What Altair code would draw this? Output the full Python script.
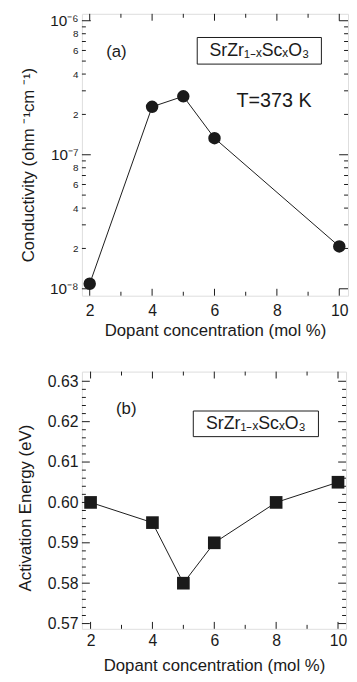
import altair as alt
import pandas as pd

# ---------------- data ----------------
# panel (a): conductivity at T = 373 K
conc_a = [2, 4, 5, 6, 10]
cond_a = [1.09e-8, 2.28e-7, 2.73e-7, 1.33e-7, 2.07e-8]

# panel (b): activation energy
conc_b = [2, 4, 5, 6, 8, 10]
ea_b = [0.600, 0.595, 0.580, 0.590, 0.600, 0.605]

# tick values / labels
x_major = [2, 4, 6, 8, 10]
x_minor = [3, 5, 7, 9]
ya_decades = [1e-8, 1e-7, 1e-6]
ya_minor = [2e-8, 3e-8, 4e-8, 5e-8, 6e-8, 7e-8, 8e-8, 9e-8,
            2e-7, 3e-7, 4e-7, 5e-7, 6e-7, 7e-7, 8e-7, 9e-7]
ya_labels = [1e-8, 2e-8, 4e-8, 6e-8, 8e-8, 1e-7, 2e-7, 4e-7, 6e-7, 8e-7, 1e-6]
yb_major = [0.57, 0.58, 0.59, 0.60, 0.61, 0.62, 0.63]
yb_minor = [0.572, 0.574, 0.576, 0.578, 0.582, 0.584, 0.586, 0.588,
            0.592, 0.594, 0.596, 0.598, 0.602, 0.604, 0.606, 0.608,
            0.612, 0.614, 0.616, 0.618, 0.622, 0.624, 0.626, 0.628]

formula_txt = ["SrZr\u2081\u208b\u2093Sc\u2093O\u2083"]
label_a = ["(a)"]
label_b = ["(b)"]
temp_txt = ["T=373 K"]

FONT = "Liberation Sans"
INK = "#1a1a1a"

WA, HA = 270, 286
WB, HB = 268, 261


def tick_layers(xs, ys, xvals, xlen, yvals, ylen, W, H, xax, yax):
    layers = []
    for vals, ln in zip(xvals, xlen):
        df = pd.DataFrame({"v": vals})
        for y0, y1 in [(H, H - ln), (0, ln)]:
            layers.append(
                alt.Chart(df).mark_rule(color=INK, strokeWidth=1).encode(
                    x=alt.X("v:Q", scale=xs, axis=xax),
                    y=alt.value(y0), y2=alt.value(y1))
            )
    for vals, ln in zip(yvals, ylen):
        df = pd.DataFrame({"w": vals})
        for x0, x1 in [(0, ln), (W, W - ln)]:
            layers.append(
                alt.Chart(df).mark_rule(color=INK, strokeWidth=1).encode(
                    y=alt.Y("w:Q", scale=ys, axis=yax),
                    x=alt.value(x0), x2=alt.value(x1))
            )
    return layers


common_axis = dict(ticks=False, tickSize=0, domain=False, grid=False,
                   labelOverlap=False, labelFlush=False, labelBound=False,
                   titleFontWeight="normal", labelFont=FONT, titleFont=FONT,
                   labelColor=INK, titleColor=INK)

# ---------------- panel (a) ----------------
xs_a = alt.Scale(domain=[1.75, 10.28], nice=False, zero=False)
ys_a = alt.Scale(type="log", domain=[8.88e-9, 1.126e-6], nice=False)

xax_a = alt.Axis(values=x_major, labelPadding=7, labelFontSize=16,
                 title="Dopant concentration (mol %)",
                 titleFontSize=17, titleX=WA / 2, titleY=35, titleBaseline="middle",
                 **common_axis)
yax_a = alt.Axis(
    values=ya_labels, labelPadding=4,
    labelExpr=("datum.value == 1e-6 ? '10\u207b\u2076' : datum.value == 1e-7 ? '10\u207b\u2077' : "
               "datum.value == 1e-8 ? '10\u207b\u2078' : "
               "format(datum.value / (datum.value < 1e-7 ? 1e-8 : 1e-7), '.0f')"),
    labelFontSize={"condition": {"test": "datum.value == 1e-6 || datum.value == 1e-7 || datum.value == 1e-8",
                                 "value": 15.5}, "value": 10},
    title="Conductivity (ohm \u207b\u00b9cm \u207b\u00b9)", titleFontSize=17,
    titleX=-54, titleY=153, titleBaseline="middle", **common_axis)

df_a = pd.DataFrame({"conc": conc_a, "cond": cond_a})
line_a = alt.Chart(df_a).mark_line(color=INK, strokeWidth=1).encode(
    x=alt.X("conc:Q", scale=xs_a, axis=xax_a),
    y=alt.Y("cond:Q", scale=ys_a, axis=yax_a))
pts_a = alt.Chart(df_a).mark_point(filled=True, shape="circle", size=160, color=INK, opacity=1).encode(
    x=alt.X("conc:Q", scale=xs_a, axis=xax_a),
    y=alt.Y("cond:Q", scale=ys_a, axis=yax_a))

ticks_a = tick_layers(xs_a, ys_a, [x_major, x_minor], [7, 4],
                      [ya_decades, ya_minor], [9, 4], WA, HA, xax_a, yax_a)

txt_a = alt.Chart(pd.DataFrame({"t": label_a})).mark_text(
    font=FONT, fontSize=17, color=INK).encode(
    x=alt.value(35), y=alt.value(39), text="t:N")
temp_a = alt.Chart(pd.DataFrame({"t": temp_txt})).mark_text(
    font=FONT, fontSize=20, color=INK).encode(
    x=alt.value(195), y=alt.value(89), text="t:N")
box_a = alt.Chart(pd.DataFrame({"t": formula_txt})).mark_rect(
    fill="white", stroke=INK, strokeWidth=1).encode(
    x=alt.value(117), x2=alt.value(243), y=alt.value(24), y2=alt.value(51))
form_a = alt.Chart(pd.DataFrame({"t": formula_txt})).mark_text(
    font=FONT, fontSize=18, color=INK).encode(
    x=alt.value(180), y=alt.value(38), text="t:N")

panel_a = alt.layer(line_a, pts_a, *ticks_a, txt_a, temp_a, box_a, form_a).properties(
    width=WA, height=HA)

# ---------------- panel (b) ----------------
xs_b = alt.Scale(domain=[1.72, 10.26], nice=False, zero=False)
ys_b = alt.Scale(domain=[0.5687, 0.6324], nice=False, zero=False)

xax_b = alt.Axis(values=x_major, labelPadding=4, labelFontSize=16,
                 title="Dopant concentration (mol %)",
                 titleFontSize=17, titleX=WB / 2, titleY=37, titleBaseline="middle",
                 **common_axis)
yax_b = alt.Axis(values=yb_major, format=".2f", labelPadding=4, labelFontSize=16,
                 title="Activation Energy (eV)", titleFontSize=17,
                 titleX=-57, titleY=138, titleBaseline="middle", **common_axis)

df_b = pd.DataFrame({"conc": conc_b, "ea": ea_b})
line_b = alt.Chart(df_b).mark_line(color=INK, strokeWidth=1).encode(
    x=alt.X("conc:Q", scale=xs_b, axis=xax_b),
    y=alt.Y("ea:Q", scale=ys_b, axis=yax_b))
pts_b = alt.Chart(df_b).mark_point(filled=True, shape="square", size=165, color=INK, opacity=1).encode(
    x=alt.X("conc:Q", scale=xs_b, axis=xax_b),
    y=alt.Y("ea:Q", scale=ys_b, axis=yax_b))

ticks_b = tick_layers(xs_b, ys_b, [x_major, x_minor], [7, 4],
                      [yb_major, yb_minor], [8, 4], WB, HB, xax_b, yax_b)

txt_b = alt.Chart(pd.DataFrame({"t": label_b})).mark_text(
    font=FONT, fontSize=17, color=INK).encode(
    x=alt.value(45), y=alt.value(38), text="t:N")
box_b = alt.Chart(pd.DataFrame({"t": formula_txt})).mark_rect(
    fill="white", stroke=INK, strokeWidth=1).encode(
    x=alt.value(113), x2=alt.value(240), y=alt.value(40), y2=alt.value(66))
form_b = alt.Chart(pd.DataFrame({"t": formula_txt})).mark_text(
    font=FONT, fontSize=18, color=INK).encode(
    x=alt.value(176.5), y=alt.value(53), text="t:N")

panel_b = alt.layer(line_b, pts_b, *ticks_b, txt_b, box_b, form_b).properties(
    width=WB, height=HB)

chart = alt.vconcat(panel_a, panel_b, spacing=77, bounds="flush").properties(
    padding={"left": 8, "top": 0, "right": 0, "bottom": 0}
).configure_view(stroke=INK, strokeWidth=1.2).configure(background="white")

chart.save("out.html", embed_options={"renderer": "svg", "actions": False})
